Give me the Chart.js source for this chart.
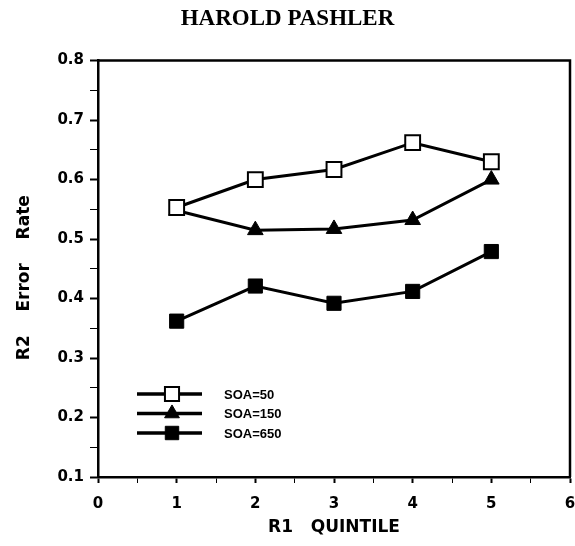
<!DOCTYPE html>
<html>
<head>
<meta charset="utf-8">
<script src="https://cdn.jsdelivr.net/npm/chart.js@4/dist/chart.umd.min.js"></script>
<style>
  html, body { margin: 0; padding: 0; background: #fff; }
  #wrap { width: 575px; height: 546px; }
</style>
</head>
<body>
<div id="wrap"><canvas id="myChart" width="575" height="546"></canvas></div>
<script>
// data
var quintiles = [1, 2, 3, 4, 5];
var soa50  = [0.553, 0.600, 0.617, 0.662, 0.630];
var soa150 = [0.548, 0.515, 0.517, 0.532, 0.600];
var soa650 = [0.362, 0.421, 0.392, 0.412, 0.479];
var seriesNames = ['SOA=50', 'SOA=150', 'SOA=650'];
var yTicks = [0.1, 0.2, 0.3, 0.4, 0.5, 0.6, 0.7, 0.8];
var xTicks = [0, 1, 2, 3, 4, 5, 6];

function pts(vals) {
    return vals.map(function (v, i) { return { x: quintiles[i], y: v }; });
}

var tickFont = { family: 'DejaVu Sans', weight: 'bold', size: 15 };
var titleFont = { family: 'DejaVu Sans', weight: 'bold', size: 17 };

function isMajor(v, step) {
    var k = Math.round(v / step * 1000) / 1000;
    return Math.abs(k - Math.round(k)) < 1e-6;
}

// box round the plot + the legend inside it
var frameAndLegend = {
    id: 'frameAndLegend',
    afterDatasetsDraw: function (chart) {
        var ctx = chart.ctx, a = chart.chartArea;
        ctx.save();
        ctx.strokeStyle = '#000';
        ctx.lineWidth = 2.5;
        ctx.beginPath();
        ctx.moveTo(a.left, a.top);
        ctx.lineTo(a.right, a.top);
        ctx.lineTo(a.right, a.bottom);
        ctx.stroke();

        // legend
        var x0 = a.left + 39, x1 = a.left + 104, xm = a.left + 74, xt = a.left + 126;
        var y0 = a.bottom - 83, dy = 19.5;
        chart.data.datasets.forEach(function (ds, i) {
            var y = y0 + i * dy;
            ctx.strokeStyle = '#000';
            ctx.lineWidth = 3.5;
            ctx.beginPath();
            ctx.moveTo(x0, y);
            ctx.lineTo(x1, y);
            ctx.stroke();
            ctx.fillStyle = ds.pointBackgroundColor;
            ctx.strokeStyle = ds.pointBorderColor;
            ctx.lineWidth = ds.pointBorderWidth;
            var r = ds.pointRadius * 0.95;
            ctx.beginPath();
            if (ds.pointStyle === 'triangle') {
                ctx.moveTo(xm, y - r);
                ctx.lineTo(xm + r * 0.866, y + r / 2);
                ctx.lineTo(xm - r * 0.866, y + r / 2);
                ctx.closePath();
            } else {
                var s = r * Math.SQRT1_2;
                ctx.rect(xm - s, y - s, 2 * s, 2 * s);
            }
            ctx.fill();
            ctx.stroke();
            ctx.fillStyle = '#000';
            ctx.font = 'bold 13px "Liberation Sans", Arial, sans-serif';
            ctx.textBaseline = 'middle';
            ctx.textAlign = 'left';
            ctx.fillText(ds.label, xt, y + 1);
        });
        ctx.restore();
    }
};

var ctx = document.getElementById('myChart').getContext('2d');
var chart = new Chart(ctx, {
    type: 'line',
    data: {
        datasets: [{
            label: seriesNames[0],
            data: pts(soa50),
            borderColor: '#000',
            borderWidth: 3,
            pointStyle: 'rect',
            pointRadius: 10.5,
            pointBackgroundColor: '#fff',
            pointBorderColor: '#000',
            pointBorderWidth: 2
        }, {
            label: seriesNames[1],
            data: pts(soa150),
            borderColor: '#000',
            borderWidth: 3,
            pointStyle: 'triangle',
            pointRadius: 9,
            pointBackgroundColor: '#000',
            pointBorderColor: '#000',
            pointBorderWidth: 1
        }, {
            label: seriesNames[2],
            data: pts(soa650),
            borderColor: '#000',
            borderWidth: 3,
            pointStyle: 'rect',
            pointRadius: 10,
            pointBackgroundColor: '#000',
            pointBorderColor: '#000',
            pointBorderWidth: 1
        }]
    },
    options: {
        responsive: false,
        animation: false,
        events: [],
        layout: { autoPadding: false, padding: 0 },
        plugins: {
            legend: { display: false },
            tooltip: { enabled: false },
            title: {
                display: true,
                text: 'HAROLD PASHLER',
                color: '#000',
                font: { family: '"Liberation Serif", "Times New Roman", serif', weight: 'bold', size: 23 },
                padding: { top: 5, bottom: 28 }
            }
        },
        scales: {
            x: {
                type: 'linear',
                min: xTicks[0],
                max: xTicks[xTicks.length - 1],
                afterFit: function (scale) { scale.height = 69; scale.paddingRight = 5; },
                ticks: {
                    stepSize: 0.5,
                    autoSkip: false,
                    maxRotation: 0,
                    padding: 12,
                    color: '#000',
                    font: tickFont,
                    callback: function (v) { return isMajor(v, 1) ? String(v) : ''; }
                },
                grid: {
                    drawOnChartArea: false,
                    drawTicks: true,
                    tickLength: 6,
                    tickColor: '#000',
                    tickWidth: function (c) { return isMajor(c.tick.value, 1) ? 2 : 1; }
                },
                border: { display: true, color: '#000', width: 2.5 },
                title: {
                    display: true,
                    text: 'R1   QUINTILE',
                    color: '#000',
                    font: titleFont,
                    padding: { top: 0, bottom: 8 }
                }
            },
            y: {
                type: 'linear',
                min: yTicks[0],
                max: yTicks[yTicks.length - 1],
                afterFit: function (scale) { scale.width = 98; },
                ticks: {
                    stepSize: 0.05,
                    autoSkip: false,
                    padding: 6,
                    color: '#000',
                    font: tickFont,
                    callback: function (v) { return isMajor(v, 0.1) ? v.toFixed(1) : ''; }
                },
                grid: {
                    drawOnChartArea: false,
                    drawTicks: true,
                    tickLength: 8,
                    tickColor: '#000',
                    tickWidth: function (c) { return isMajor(c.tick.value, 0.1) ? 2 : 1; }
                },
                border: { display: true, color: '#000', width: 2.5 },
                title: {
                    display: true,
                    text: 'R2    Error    Rate   ',
                    color: '#000',
                    font: titleFont,
                    padding: { top: 14, bottom: 0 }
                }
            }
        }
    },
    plugins: [frameAndLegend]
});
</script>
</body>
</html>
